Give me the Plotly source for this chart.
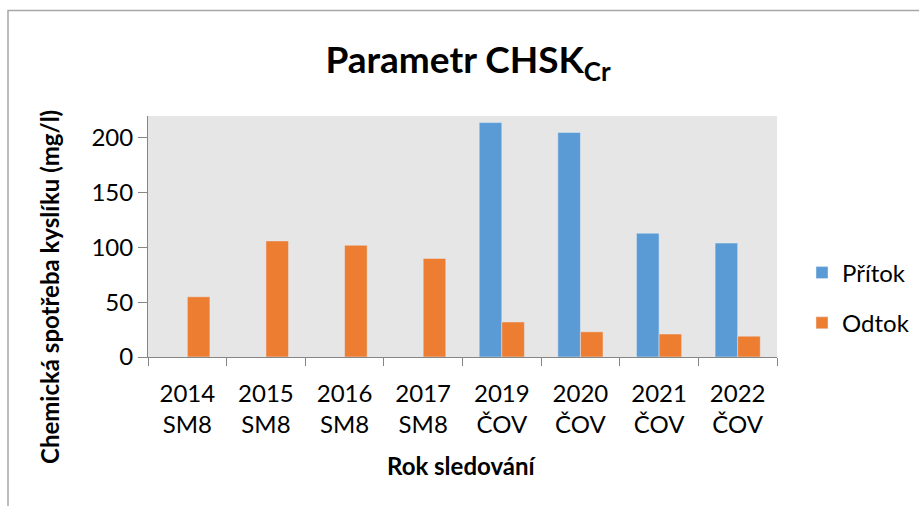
import plotly.graph_objects as go

categories = ["2014<br>SM8", "2015<br>SM8", "2016<br>SM8", "2017<br>SM8",
              "2019<br>ČOV", "2020<br>ČOV", "2021<br>ČOV", "2022<br>ČOV"]
pritok = [None, None, None, None, 214, 205, 113, 104]
odtok = [55, 106, 102, 90, 32, 23, 21, 19]
y_ticks = [0, 50, 100, 150, 200]

FONT = "Lato, Carlito, Calibri, sans-serif"
W, H = 919, 506
L, R, T, B = 148, 777, 116, 357

def px_x(p):
    return (p - L) / (R - L)

def px_y(p):
    return (B - p) / (B - T)

fig = go.Figure()
fig.add_trace(go.Bar(x=categories, y=pritok, name="Přítok", marker_color="#5B9BD5",
                     legendgroup="a"))
fig.add_trace(go.Bar(x=categories, y=odtok, name="Odtok", marker_color="#ED7D31",
                     legendgroup="b"))

fig.update_layout(
    width=W, height=H,
    margin=dict(l=L, r=W - R, t=T, b=H - B, pad=0, autoexpand=False),
    paper_bgcolor="white",
    plot_bgcolor="#E6E6E6",
    barmode="group",
    bargap=0.425,
    bargroupgap=0,
    font=dict(family=FONT, size=24, color="#000000"),
    showlegend=True,
    legend=dict(x=px_x(802), y=px_y(298), xanchor="left", yanchor="middle",
                font=dict(size=24), tracegroupgap=16, bgcolor="rgba(0,0,0,0)",
                itemwidth=30),
    title=dict(text="<b>Parametr CHSK<sub>Cr</sub></b>", x=468 / W, xanchor="center",
               y=1 - 60 / H, yanchor="middle", font=dict(size=37, family=FONT)),
)

fig.update_xaxes(
    type="category", showgrid=False, showline=True, linecolor="#868686", linewidth=1,
    ticks="outside", tickson="boundaries", ticklen=8, tickcolor="#868686",
    tickfont=dict(size=24), ticklabelstandoff=15, automargin=False,
)
fig.update_yaxes(
    range=[0, 220], tickvals=y_ticks, showgrid=False, zeroline=False,
    showline=True, linecolor="#868686", linewidth=1,
    ticks="outside", ticklen=9, tickcolor="#868686", ticksuffix="\u00a0\u00a0",
    tickfont=dict(size=24), automargin=False,
)

fig.add_annotation(text="<b>Chemická spotřeba kyslíku (mg/l)</b>", textangle=-90,
                   xref="paper", yref="paper", x=px_x(49), y=px_y(287),
                   xanchor="center", yanchor="middle", showarrow=False,
                   font=dict(size=24, family=FONT))
fig.add_annotation(text="<b>Rok sledování</b>", xref="paper", yref="paper",
                   x=px_x(462), y=px_y(465), xanchor="center", yanchor="middle",
                   showarrow=False, font=dict(size=24, family=FONT))

fig.add_shape(type="rect", xref="paper", yref="paper",
              x0=px_x(8), x1=px_x(930), y0=px_y(10.5), y1=px_y(520),
              line=dict(color="#A6A6A6", width=1.5), fillcolor="rgba(0,0,0,0)", layer="below")

fig.write_html("out.html", config={"displayModeBar": False},
               post_script="document.body.style.margin='0';document.body.style.overflow='hidden';")
